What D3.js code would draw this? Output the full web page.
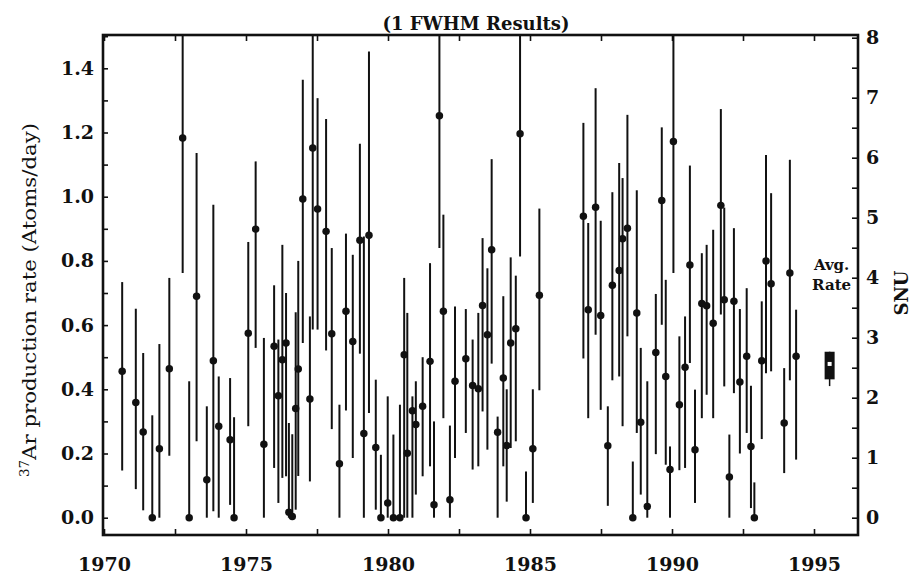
<!DOCTYPE html>
<html>
<head>
<meta charset="utf-8">
<script src="https://cdn.jsdelivr.net/npm/d3@7"></script>
<style>
  body { margin: 0; background: #fff; }
  text { font-family: "DejaVu Serif", "Liberation Serif", serif; fill: #111; }
</style>
</head>
<body>
<div id="viz"></div>
<script>
// run dates (decimal year), production rate and the 1 FWHM bounds
const years = [1970.64, 1971.12, 1971.38, 1971.70, 1971.95, 1972.30, 1972.77, 1973.00, 1973.26, 1973.62,
  1973.85, 1974.04, 1974.44, 1974.58, 1975.08, 1975.34, 1975.63, 1975.99, 1976.14, 1976.28,
  1976.41, 1976.51, 1976.63, 1976.75, 1976.84, 1977.00, 1977.25, 1977.35, 1977.52, 1977.82,
  1978.02, 1978.29, 1978.52, 1978.76, 1979.01, 1979.15, 1979.33, 1979.57, 1979.75, 1979.99,
  1980.19, 1980.42, 1980.57, 1980.68, 1980.86, 1980.98, 1981.22, 1981.48, 1981.62, 1981.81,
  1981.95, 1982.18, 1982.36, 1982.74, 1982.98, 1983.18, 1983.33, 1983.50, 1983.65, 1983.86,
  1984.06, 1984.18, 1984.32, 1984.50, 1984.65, 1984.86, 1985.10, 1985.33, 1986.88, 1987.05,
  1987.31, 1987.49, 1987.74, 1987.90, 1988.14, 1988.26, 1988.43, 1988.62, 1988.76, 1988.90,
  1989.13, 1989.43, 1989.64, 1989.78, 1989.93, 1990.05, 1990.26, 1990.46, 1990.63, 1990.81,
  1991.05, 1991.22, 1991.45, 1991.72, 1991.84, 1992.02, 1992.18, 1992.39, 1992.63, 1992.78,
  1992.90, 1993.16, 1993.31, 1993.49, 1993.95, 1994.15, 1994.37];
const rates = [0.456, 0.359, 0.267, 0.000, 0.215, 0.464, 1.183, 0.000, 0.690, 0.118,
  0.489, 0.285, 0.243, 0.000, 0.575, 0.899, 0.229, 0.534, 0.380, 0.492,
  0.544, 0.017, 0.004, 0.340, 0.463, 0.993, 0.370, 1.152, 0.962, 0.892,
  0.573, 0.168, 0.643, 0.549, 0.864, 0.262, 0.880, 0.219, 0.000, 0.046,
  0.000, 0.000, 0.508, 0.201, 0.333, 0.290, 0.347, 0.487, 0.040, 1.252,
  0.643, 0.056, 0.425, 0.495, 0.412, 0.402, 0.661, 0.570, 0.835, 0.266,
  0.435, 0.225, 0.544, 0.589, 1.196, 0.000, 0.215, 0.693, 0.939, 0.648,
  0.967, 0.630, 0.224, 0.724, 0.770, 0.869, 0.902, 0.000, 0.638, 0.297,
  0.035, 0.515, 0.988, 0.440, 0.150, 1.172, 0.352, 0.469, 0.787, 0.212,
  0.667, 0.660, 0.606, 0.973, 0.679, 0.127, 0.674, 0.423, 0.503, 0.222,
  0.000, 0.489, 0.800, 0.729, 0.295, 0.762, 0.503];
const upper = [0.734, 0.651, 0.513, 0.319, 0.541, 0.747, 1.650, 0.425, 1.136, 0.347,
  0.975, 0.440, 0.435, 0.313, 0.859, 1.110, 0.560, 0.724, 0.555, 0.850,
  0.700, 0.295, 0.260, 0.640, 0.800, 1.364, 0.627, 1.650, 1.307, 1.242,
  0.840, 0.352, 0.885, 0.819, 1.165, 0.876, 1.452, 0.430, 0.196, 0.378,
  0.259, 0.352, 0.747, 0.638, 0.378, 0.425, 0.500, 0.793, 0.300, 1.650,
  0.944, 0.287, 0.658, 0.650, 0.555, 0.638, 0.871, 0.777, 1.117, 0.315,
  0.690, 0.400, 0.811, 0.754, 1.650, 0.144, 0.400, 0.963, 1.230, 0.918,
  1.338, 0.925, 0.347, 1.014, 1.105, 1.058, 1.255, 0.175, 1.020, 0.529,
  0.425, 0.697, 1.216, 0.741, 0.222, 1.650, 0.565, 0.627, 1.097, 0.399,
  0.824, 0.850, 0.897, 1.273, 0.966, 0.259, 0.902, 0.650, 0.715, 0.411,
  0.110, 0.674, 1.130, 1.011, 0.466, 1.115, 0.648];
const lower = [0.147, 0.089, 0.023, 0, 0, 0.193, 0.762, 0, 0.238, 0,
  0.020, 0, 0.040, 0, 0.285, 0.529, 0, 0.155, 0.046, 0.124,
  0.129, 0, 0, 0.025, 0.130, 0.544, 0.113, 0.586, 0.586, 0.521,
  0.276, 0, 0.334, 0.186, 0.511, 0, 0.326, 0.025, 0, 0,
  0, 0, 0, 0, 0, 0.072, 0.129, 0.160, 0, 0.840,
  0.310, 0, 0.186, 0.264, 0.150, 0.160, 0.331, 0.212, 0.480, 0,
  0.160, 0.050, 0.217, 0.238, 0.814, 0, 0.046, 0.397, 0.496, 0.310,
  0.570, 0.336, 0.037, 0.428, 0.440, 0.285, 0.565, 0, 0.264, 0.072,
  0, 0.198, 0.601, 0.165, 0, 0.762, 0.148, 0.155, 0.482, 0.046,
  0.310, 0.383, 0.310, 0.633, 0.409, 0, 0.388, 0.200, 0.264, 0.030,
  0, 0.245, 0.450, 0.456, 0.139, 0.428, 0.181];

// average rate marker
const avgYear = 1995.55;
const avgRate = 0.479;
const avgBox = [0.431, 0.517];
const avgWhisker = 0.41;

// tick values
const xTicks = d3.range(1970, 1996.1, 2.5);
const yTicks = d3.range(0, 1.51, 0.1);
const snuTicks = d3.range(0, 8.01, 0.5);

const width = 915, height = 578;
const frame = {left: 103, top: 35, right: 858, bottom: 535};

const svg = d3.select("#viz").append("svg")
  .attr("width", width).attr("height", height);

const x = d3.scaleLinear().domain([1970, 1995]).range([104, 814]);
const y = d3.scaleLinear().domain([0, 1.4]).range([517.7, 68.3]);
const ySnu = d3.scaleLinear().domain([0, 8]).range([517.7, 37.7]);

svg.append("defs").append("clipPath").attr("id", "clip")
  .append("rect")
  .attr("x", frame.left).attr("y", frame.top)
  .attr("width", frame.right - frame.left).attr("height", frame.bottom - frame.top);

// axes, ticks pointing inward
const gBottom = svg.append("g")
  .attr("transform", "translate(0," + frame.bottom + ")")
  .call(d3.axisBottom(x).tickValues(xTicks).tickSize(-6).tickPadding(23)
    .tickFormat(d => d % 5 === 0 ? d : ""));
const gTop = svg.append("g")
  .attr("transform", "translate(0," + frame.top + ")")
  .call(d3.axisTop(x).tickValues(xTicks).tickSize(-6).tickFormat(""));
const gLeft = svg.append("g")
  .attr("transform", "translate(" + frame.left + ",0)")
  .call(d3.axisLeft(y).tickValues(yTicks).tickSize(-5).tickPadding(9)
    .tickFormat(d => Math.round(d * 10) % 2 === 0 && d < 1.45 ? d3.format(".1f")(d) : ""));
const gRight = svg.append("g")
  .attr("transform", "translate(" + frame.right + ",0)")
  .call(d3.axisRight(ySnu).tickValues(snuTicks).tickSize(-6).tickPadding(8)
    .tickFormat(d => d % 1 === 0 ? d : ""));

[gBottom, gTop, gLeft, gRight].forEach(g => {
  g.select(".domain").remove();
  g.selectAll(".tick line").attr("stroke", "#111").attr("stroke-width", 1.6);
  g.selectAll("text").style("font-size", "19px").style("font-weight", "bold")
    .style("font-family", "'DejaVu Serif', serif").attr("fill", "#111");
});

// frame
svg.append("rect")
  .attr("x", frame.left).attr("y", frame.top)
  .attr("width", frame.right - frame.left).attr("height", frame.bottom - frame.top)
  .attr("fill", "none").attr("stroke", "#111").attr("stroke-width", 2.6);

// error bars and points
const runs = years.map((d, i) => ({year: d, rate: rates[i], hi: upper[i], lo: lower[i]}));
const plot = svg.append("g").attr("clip-path", "url(#clip)");

plot.selectAll(".bar").data(runs).enter().append("line")
  .attr("class", "bar")
  .attr("x1", d => x(d.year)).attr("x2", d => x(d.year))
  .attr("y1", d => y(d.hi)).attr("y2", d => y(d.lo))
  .attr("stroke", "#111").attr("stroke-width", 2);

plot.selectAll(".pt").data(runs).enter().append("path")
  .attr("class", "pt")
  .attr("transform", d => "translate(" + x(d.year) + "," + y(d.rate) + ")")
  .attr("d", d3.symbol(d3.symbolCircle, 44))
  .attr("fill", "#111");

// average rate
svg.append("line")
  .attr("x1", x(avgYear)).attr("x2", x(avgYear))
  .attr("y1", y(avgBox[1])).attr("y2", y(avgWhisker))
  .attr("stroke", "#111").attr("stroke-width", 1.5);
svg.append("rect")
  .attr("x", x(avgYear) - 5).attr("y", y(avgBox[1]))
  .attr("width", 10).attr("height", y(avgBox[0]) - y(avgBox[1]))
  .attr("fill", "#111");
svg.append("rect")
  .attr("x", x(avgYear) - 2).attr("y", y(avgRate) - 2)
  .attr("width", 4).attr("height", 4)
  .attr("fill", "#fff");

svg.append("text").attr("x", x(avgYear) + 2).attr("y", 270)
  .attr("text-anchor", "middle").style("font-size", "15px").style("font-weight", "bold")
  .text("Avg.");
svg.append("text").attr("x", x(avgYear) + 2).attr("y", 290)
  .attr("text-anchor", "middle").style("font-size", "15px").style("font-weight", "bold")
  .text("Rate");

// title
svg.append("text").attr("x", 476).attr("y", 30)
  .attr("text-anchor", "middle").style("font-size", "18px").style("font-weight", "bold")
  .text("(1 FWHM Results)");

// left label
const yl = svg.append("text")
  .attr("transform", "translate(36,300) rotate(-90)")
  .attr("text-anchor", "middle").style("font-size", "19px")
  .attr("textLength", 354).attr("lengthAdjust", "spacingAndGlyphs");
yl.append("tspan").attr("baseline-shift", "super").style("font-size", "12px").text("37");
yl.append("tspan").text("Ar production rate (Atoms/day)");

// right label
svg.append("text")
  .attr("transform", "translate(908,293) rotate(-90)")
  .attr("text-anchor", "middle").style("font-size", "18px").style("font-weight", "bold")
  .text("SNU");
</script>
</body>
</html>
